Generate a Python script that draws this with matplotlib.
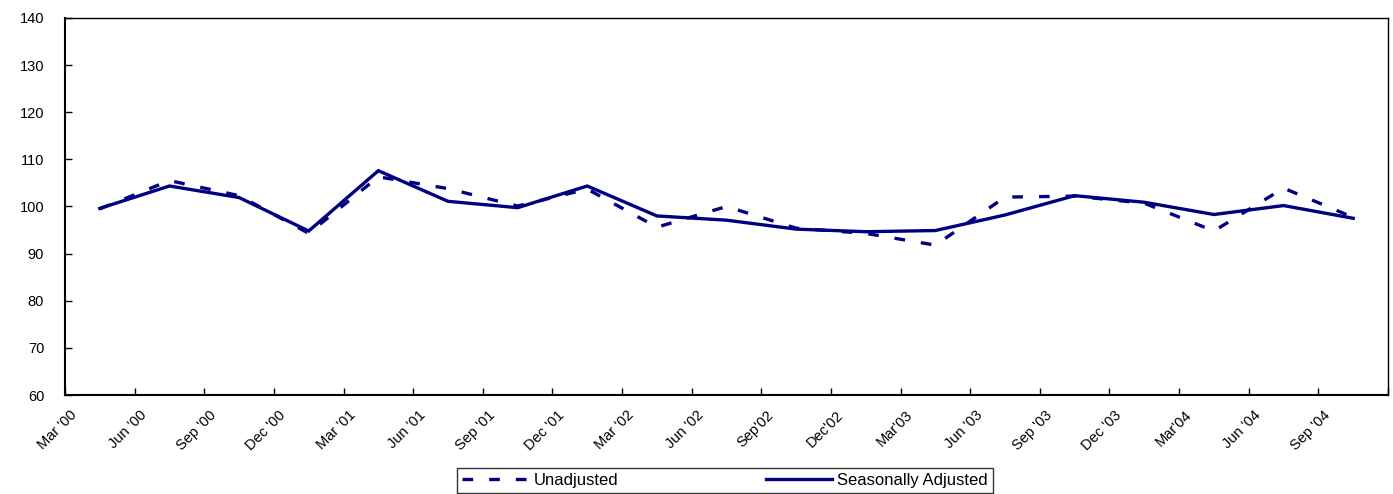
import matplotlib
matplotlib.use("Agg")
import matplotlib.pyplot as plt
import matplotlib.transforms as mtransforms
import numpy as np

quarters = ["Mar '00", "Jun '00", "Sep '00", "Dec '00", "Mar '01", "Jun '01",
            "Sep '01", "Dec '01", "Mar '02", "Jun '02", "Sep'02", "Dec'02",
            "Mar'03", "Jun '03", "Sep '03", "Dec '03", "Mar'04", "Jun '04",
            "Sep '04"]
unadjusted = [99.5, 105.5, 102.3, 94.3, 106.3, 103.8, 100.1, 103.7, 95.6,
              100.0, 95.4, 94.3, 91.8, 102.0, 102.2, 100.7, 94.8, 103.9, 97.7]
seasonally_adjusted = [99.6, 104.35, 101.9, 94.8, 107.6, 101.1, 99.75, 104.35,
                       98.0, 97.1, 95.2, 94.65, 94.9, 98.2, 102.3, 100.9, 98.3,
                       100.2, 97.5]
y_ticks = [60, 70, 80, 90, 100, 110, 120, 130, 140]

plt.rcParams['font.family'] = ['Liberation Sans', 'DejaVu Sans']
W, H = 1393, 494
fig = plt.figure(figsize=(W / 100, H / 100), dpi=100)
ax = fig.add_axes([65 / W, 1 - 395 / H, (1388 - 65) / W, (395 - 18) / H])

navy = '#000080'
x = np.arange(len(quarters))
ax.plot(x, unadjusted, color=navy, lw=2.4, dashes=(3.2, 4.8),
        label='Unadjusted')
ax.plot(x, seasonally_adjusted, color=navy, lw=2.4, solid_joinstyle='miter',
        label='Seasonally Adjusted')

ax.set_xlim(-0.5, len(quarters) - 0.5)
ax.set_ylim(y_ticks[0], y_ticks[-1])
ax.set_yticks(y_ticks)
ax.set_yticklabels([str(v) for v in y_ticks], fontsize=10.5)
ax.tick_params(axis='y', direction='in', length=5, width=1, pad=15,
               colors='black')

# major ticks at category boundaries (no labels)
ax.set_xticks(np.arange(-0.5, len(quarters), 1.0))
ax.set_xticklabels([])
ax.tick_params(axis='x', which='major', direction='in', length=5, width=1)
# labels at category centres
ax.set_xticks(x, minor=True)
ax.set_xticklabels(quarters, minor=True, fontsize=10.5, rotation=45,
                   ha='right', va='center', rotation_mode='anchor')
ax.tick_params(axis='x', which='minor', length=0, pad=13)
offset = mtransforms.ScaledTranslation(-25 / 100, 0, fig.dpi_scale_trans)
for lbl in ax.get_xticklabels(minor=True):
    lbl.set_transform(lbl.get_transform() + offset)

for side in ['left', 'bottom']:
    ax.spines[side].set_linewidth(1.5)
    ax.spines[side].set_color('black')
for side in ['top', 'right']:
    ax.spines[side].set_linewidth(1.0)
    ax.spines[side].set_color('black')

leg = fig.legend(loc='upper left', ncol=2, mode='expand',
                 bbox_to_anchor=(457 / W, 0, 536 / W, 1 - 468 / H),
                 fontsize=12, frameon=True, fancybox=False, handlelength=4.0,
                 handletextpad=0.3, borderpad=0.3, borderaxespad=0,
                 columnspacing=1.0)
leg.get_frame().set_edgecolor('black')
leg.get_frame().set_linewidth(1.0)

fig.savefig('out.png', dpi=100)
